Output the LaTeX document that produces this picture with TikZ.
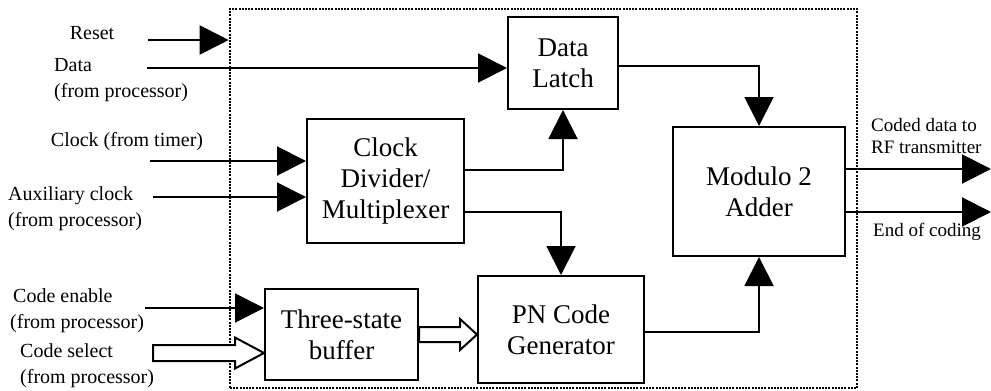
\documentclass[tikz,border=0pt]{standalone}
\usepackage{fontspec}
\setmainfont{Liberation Serif}
\usetikzlibrary{arrows.meta,calc}
\newcommand\hollowarr[4]{%
  \draw[hollow] let \p1=(#1), \p2=(#2) in
    (\x1,{\y1+#4}) -- ({\x2-#3},{\y1+#4}) -- ({\x2-#3},{\y1+15.5pt}) -- (\x2,\y1)
    -- ({\x2-#3},{\y1-15.5pt}) -- ({\x2-#3},{\y1-#4}) -- (\x1,{\y1-#4}) -- cycle;}
\begin{document}
\begin{tikzpicture}[x=1pt,y=-1pt,
  blk/.style={draw, line width=2pt, fill=white, align=center, inner sep=0pt,
    font=\fontsize{27}{31}\selectfont},
  sysbox/.style={draw, line width=2.6pt, dash pattern=on 2pt off 1.2pt, inner sep=0pt},
  conn/.style={line width=2pt, -{Triangle[length=29pt,width=29pt]}},
  hollow/.style={line width=2pt, fill=white, line join=miter},
  lbl/.style={inner sep=0pt, align=left, font=\fontsize{20}{26}\selectfont},
  rlbl/.style={inner sep=0pt, align=left, font=\fontsize{19}{22}\selectfont}]
\useasboundingbox (0,0) rectangle (991,391);

% dotted system boundary
\node[sysbox, minimum width=627pt, minimum height=379pt] (sys) at (543.5,198.5) {};

% blocks
\node[blk, minimum width=110pt, minimum height=92pt] (latch) at (563,63) {Data\\Latch};
\node[blk, minimum width=157pt, minimum height=124pt] (clk) at (385.5,181) {Clock\\Divider/\\Multiplexer};
\node[blk, minimum width=153pt, minimum height=91pt] (buf) at (341.5,334.5) {Three-state\\buffer};
\node[blk, minimum width=166pt, minimum height=107pt] (pn) at (561,329.5) {PN Code\\Generator};
\node[blk, minimum width=172pt, minimum height=129pt] (mod) at (759,191.5) {Modulo 2\\Adder};

% input labels
\node[lbl] (lreset) at (92,33) {Reset};
\node[lbl, anchor=west] (ldata) at (54,80) {Data\\(from processor)};
\node[lbl] (lclock) at (127,142) {Clock (from timer)};
\node[lbl, anchor=west] (laux) at (8,209) {Auxiliary clock\\(from processor)};
\node[lbl, anchor=west] (lenable) at (10,311) {\hspace{3pt}Code enable\\(from processor)};
\node[lbl, anchor=west] (lselect) at (20,366) {Code select\\(from processor)};
\node[rlbl, anchor=west] (lcoded) at (871,136) {Coded data to\\RF transmitter};
\node[rlbl, anchor=west] (lend) at (873,232) {End of coding};

% input coordinates
\coordinate (resetin) at (148,40);
\coordinate (datain) at (147,68);
\coordinate (clockin) at (150,161);
\coordinate (auxin) at (153,197);
\coordinate (enin) at (145,308);
\coordinate (csin) at (153,353);
\coordinate (cstip) at (csin -| buf.west);
\coordinate (bufout) at (buf.east);
\coordinate (pnin) at (buf.east -| pn.west);
\coordinate (out1) at (991,169);
\coordinate (out2) at (991,212);

% connectors
\draw[conn] (resetin) -- (resetin -| sys.west);
\draw[conn] (datain) -- (datain -| latch.west);
\draw[conn] (clockin) -- (clockin -| clk.west);
\draw[conn] (auxin) -- (auxin -| clk.west);
\draw[conn] (enin) -- (enin -| buf.west);
\draw[conn] ($(latch.east)+(0,3)$) -| (mod.north);
\draw[conn] ($(clk.east)+(0,-11)$) -| (latch.south);
\draw[conn] ($(clk.east)+(0,31)$) -| (pn.north);
\draw[conn] ($(pn.east)+(0,2.5)$) -| (mod.south);
\draw[conn] (mod.east |- out1) -- (out1);
\draw[conn] (mod.east |- out2) -- (out2);

% wide (bus) arrows
\hollowarr{csin}{cstip}{29pt}{8pt}
\hollowarr{bufout}{pnin}{17pt}{7.5pt}
\end{tikzpicture}
\end{document}
